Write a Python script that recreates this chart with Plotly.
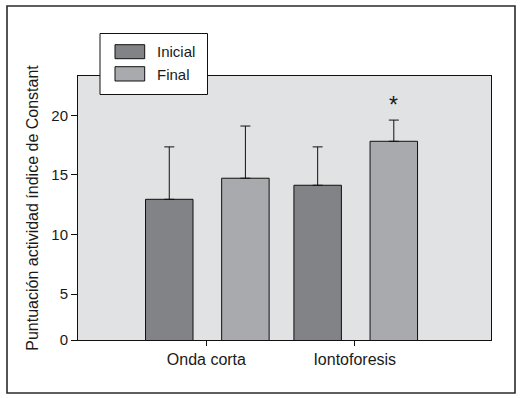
import plotly.graph_objects as go

categories = ["Onda corta", "Iontoforesis"]
series_names = ["Inicial", "Final"]
inicial_values = [12.95, 14.13]
inicial_err = [4.4, 3.22]
final_values = [14.72, 17.82]
final_err = [4.38, 1.78]
significance = ["", "*"]
y_tick_values = [5, 10, 15, 20]
y_tick_labels = ["5", "10", "15", "20"]
y_axis_bottom = 1.14
y_axis_top = 23.3

FONT = "Liberation Sans, Arial, Helvetica, sans-serif"
colors = ["#828387", "#a9aaae"]
bar_width = 0.32
offsets = [-0.41, 0.103]

fig = go.Figure()
for name, vals, errs, col, off in zip(series_names, [inicial_values, final_values],
                                      [inicial_err, final_err], colors, offsets):
    fig.add_trace(go.Bar(
        x=categories, y=vals, name=name, width=bar_width, offset=off,
        marker=dict(color=col, line=dict(color="#111111", width=1)),
        error_y=dict(type="data", array=errs, arrayminus=[0] * len(errs), symmetric=False,
                     color="#111111", thickness=1, width=5),
        showlegend=False,
    ))

# significance markers
for i, (mark, v, e) in enumerate(zip(significance, final_values, final_err)):
    if mark:
        fig.add_annotation(x=i + offsets[1] + bar_width / 2, y=v + e, text=mark,
                           showarrow=False, xanchor="center", yanchor="bottom",
                           yshift=0, font=dict(family=FONT, size=23, color="#1a1a1a"))

fig.update_layout(
    width=525, height=398,
    margin=dict(l=78, r=34, t=76, b=58),
    paper_bgcolor="white", plot_bgcolor="#e1e2e4",
    barmode="overlay",
    font=dict(family=FONT, size=15, color="#1a1a1a"),
    showlegend=False,
)
fig.update_xaxes(
    type="category", range=[-0.865, 1.918],
    showline=True, linecolor="#111111", linewidth=1, mirror=True,
    ticks="outside", ticklen=5, tickcolor="#111111",
    showgrid=False, zeroline=False,
    tickfont=dict(family=FONT, size=16, color="#1a1a1a"),
)
fig.update_yaxes(
    range=[y_axis_bottom, y_axis_top],
    tickvals=[y_axis_bottom] + y_tick_values, ticktext=["0"] + y_tick_labels,
    showline=True, linecolor="#111111", linewidth=1, mirror=True,
    ticks="outside", ticklen=6, tickcolor="#111111",
    showgrid=False, zeroline=False,
    tickfont=dict(family=FONT, size=15, color="#1a1a1a"),
    title=dict(text="Puntuación actividad índice de Constant", standoff=8,
               font=dict(family=FONT, size=16, color="#1a1a1a")),
)

# outer frame
def px_x(px):
    return (px - 78) / 413

def px_y(py):
    return (340 - py) / 264

fig.add_shape(type="rect", xref="paper", yref="paper",
              x0=px_x(7), x1=px_x(515), y0=px_y(393), y1=px_y(6),
              line=dict(color="#2a2a2a", width=1.6), fillcolor="rgba(0,0,0,0)", layer="above")

# legend (manual, to match the large swatches)
fig.add_shape(type="rect", xref="paper", yref="paper",
              x0=px_x(100), x1=px_x(207.5), y0=px_y(94.5), y1=px_y(33.5),
              line=dict(color="#111111", width=1), fillcolor="white", layer="above")
legend_rows = [(44.7, 58.7, 51.7), (66.7, 81, 74.5)]
for name, col, (t, b, c) in zip(series_names, colors, legend_rows):
    fig.add_shape(type="rect", xref="paper", yref="paper",
                  x0=px_x(115), x1=px_x(144.7), y0=px_y(b), y1=px_y(t),
                  line=dict(color="#111111", width=1), fillcolor=col, layer="above")
    fig.add_annotation(xref="paper", yref="paper", x=px_x(155), y=px_y(c), text=name,
                       showarrow=False, xanchor="left", yanchor="middle",
                       font=dict(family=FONT, size=15, color="#1a1a1a"))

fig.write_html("out.html", config={"displayModeBar": False},
               post_script="document.body.style.margin='0px';")
